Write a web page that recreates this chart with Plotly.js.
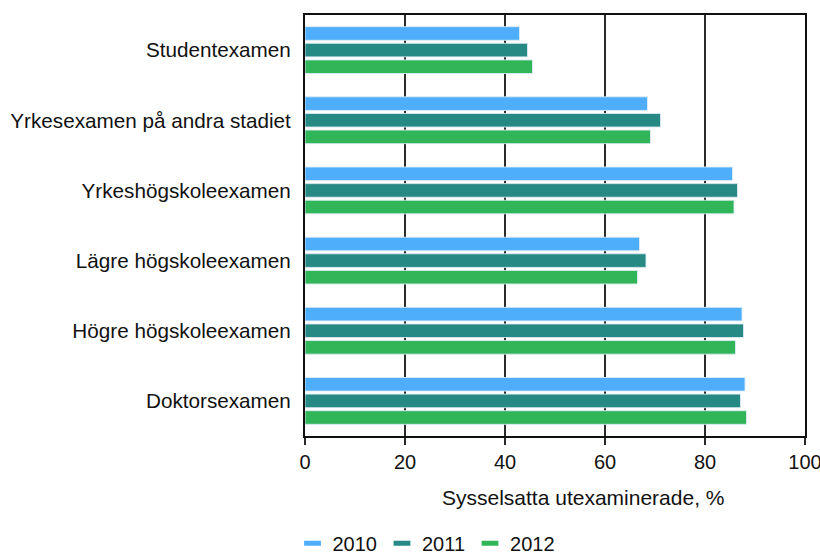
<!DOCTYPE html>
<html>
<head>
<meta charset="utf-8">
<script src="https://cdn.plot.ly/plotly-3.0.1.min.js"></script>
<style>html,body{margin:0;padding:0;background:#fff;}#chart{width:820px;height:554px;}</style>
</head>
<body>
<div id="chart"></div>
<script>
const categories = ["Studentexamen", "Yrkesexamen på andra stadiet", "Yrkeshögskoleexamen", "Lägre högskoleexamen", "Högre högskoleexamen", "Doktorsexamen"];
const years = ["2010", "2011", "2012"];
const values2010 = [42.9, 68.5, 85.5, 66.9, 87.4, 88.0];
const values2011 = [44.5, 71.1, 86.5, 68.2, 87.7, 87.1];
const values2012 = [45.5, 69.1, 85.8, 66.5, 86.1, 88.3];
const colors = ["#4eaefc", "#268984", "#31b559"];
const axisTitle = "Sysselsatta utexaminerade, %";
const xTicks = [0, 20, 40, 60, 80, 100];

const series = [values2010, values2011, values2012];
const FONT = "Liberation Sans, Arial, sans-serif";

const barTraces = series.map((vals, i) => ({
  type: "bar",
  orientation: "h",
  name: years[i],
  y: categories,
  x: vals,
  showlegend: false,
  marker: {color: colors[i], line: {color: "rgba(220,235,245,0.9)", width: 1}},
  hoverinfo: "x+name"
}));

// legend-only entries (flat rectangle keys like the original)
const legendTraces = years.map((yr, i) => ({
  type: "scatter",
  mode: "markers",
  name: yr,
  x: [null],
  y: [null],
  showlegend: true,
  marker: {symbol: "line-ew", size: 12, color: colors[i], line: {color: colors[i], width: 5}}
}));

const layout = {
  width: 820,
  height: 554,
  margin: {l: 305, r: 15, t: 15, b: 118, autoexpand: false},
  paper_bgcolor: "#fff",
  plot_bgcolor: "#fff",
  barmode: "group",
  bargap: 0.29,
  bargroupgap: 0.18,
  font: {family: FONT, size: 20, color: "#111"},
  showlegend: true,
  legend: {
    orientation: "h",
    x: -0.025, xanchor: "left",
    y: -0.255, yanchor: "middle",
    font: {family: FONT, size: 20, color: "#111"},
    itemwidth: 30,
    itemsizing: "trace",
    tracegroupgap: 0
  },
  xaxis: {
    range: [0, 100],
    tickvals: xTicks,
    ticktext: xTicks.map(String),
    showgrid: true,
    gridcolor: "#2a2a2a",
    gridwidth: 1.6,
    zeroline: false,
    showline: true,
    linecolor: "#111",
    linewidth: 2,
    mirror: true,
    ticks: "outside",
    ticklen: 7,
    tickwidth: 1.6,
    tickcolor: "#2a2a2a",
    ticklabeloverflow: "allow",
    ticklabelstandoff: 0,
    tickfont: {family: FONT, size: 20, color: "#111"},
    fixedrange: true
  },
  yaxis: {
    type: "category",
    autorange: "reversed",
    showgrid: false,
    zeroline: false,
    showline: true,
    linecolor: "#111",
    linewidth: 2,
    mirror: true,
    ticks: "",
    ticklabelstandoff: 8,
    tickfont: {family: FONT, size: 20.7, color: "#111"},
    fixedrange: true
  },
  annotations: [{
    text: axisTitle,
    xref: "paper", yref: "paper",
    x: 0.555, y: -0.145,
    xanchor: "center", yanchor: "middle",
    showarrow: false,
    font: {family: FONT, size: 21, color: "#111"}
  }]
};

Plotly.newPlot("chart", barTraces.concat(legendTraces), layout, {displayModeBar: false, staticPlot: true});
</script>
</body>
</html>
